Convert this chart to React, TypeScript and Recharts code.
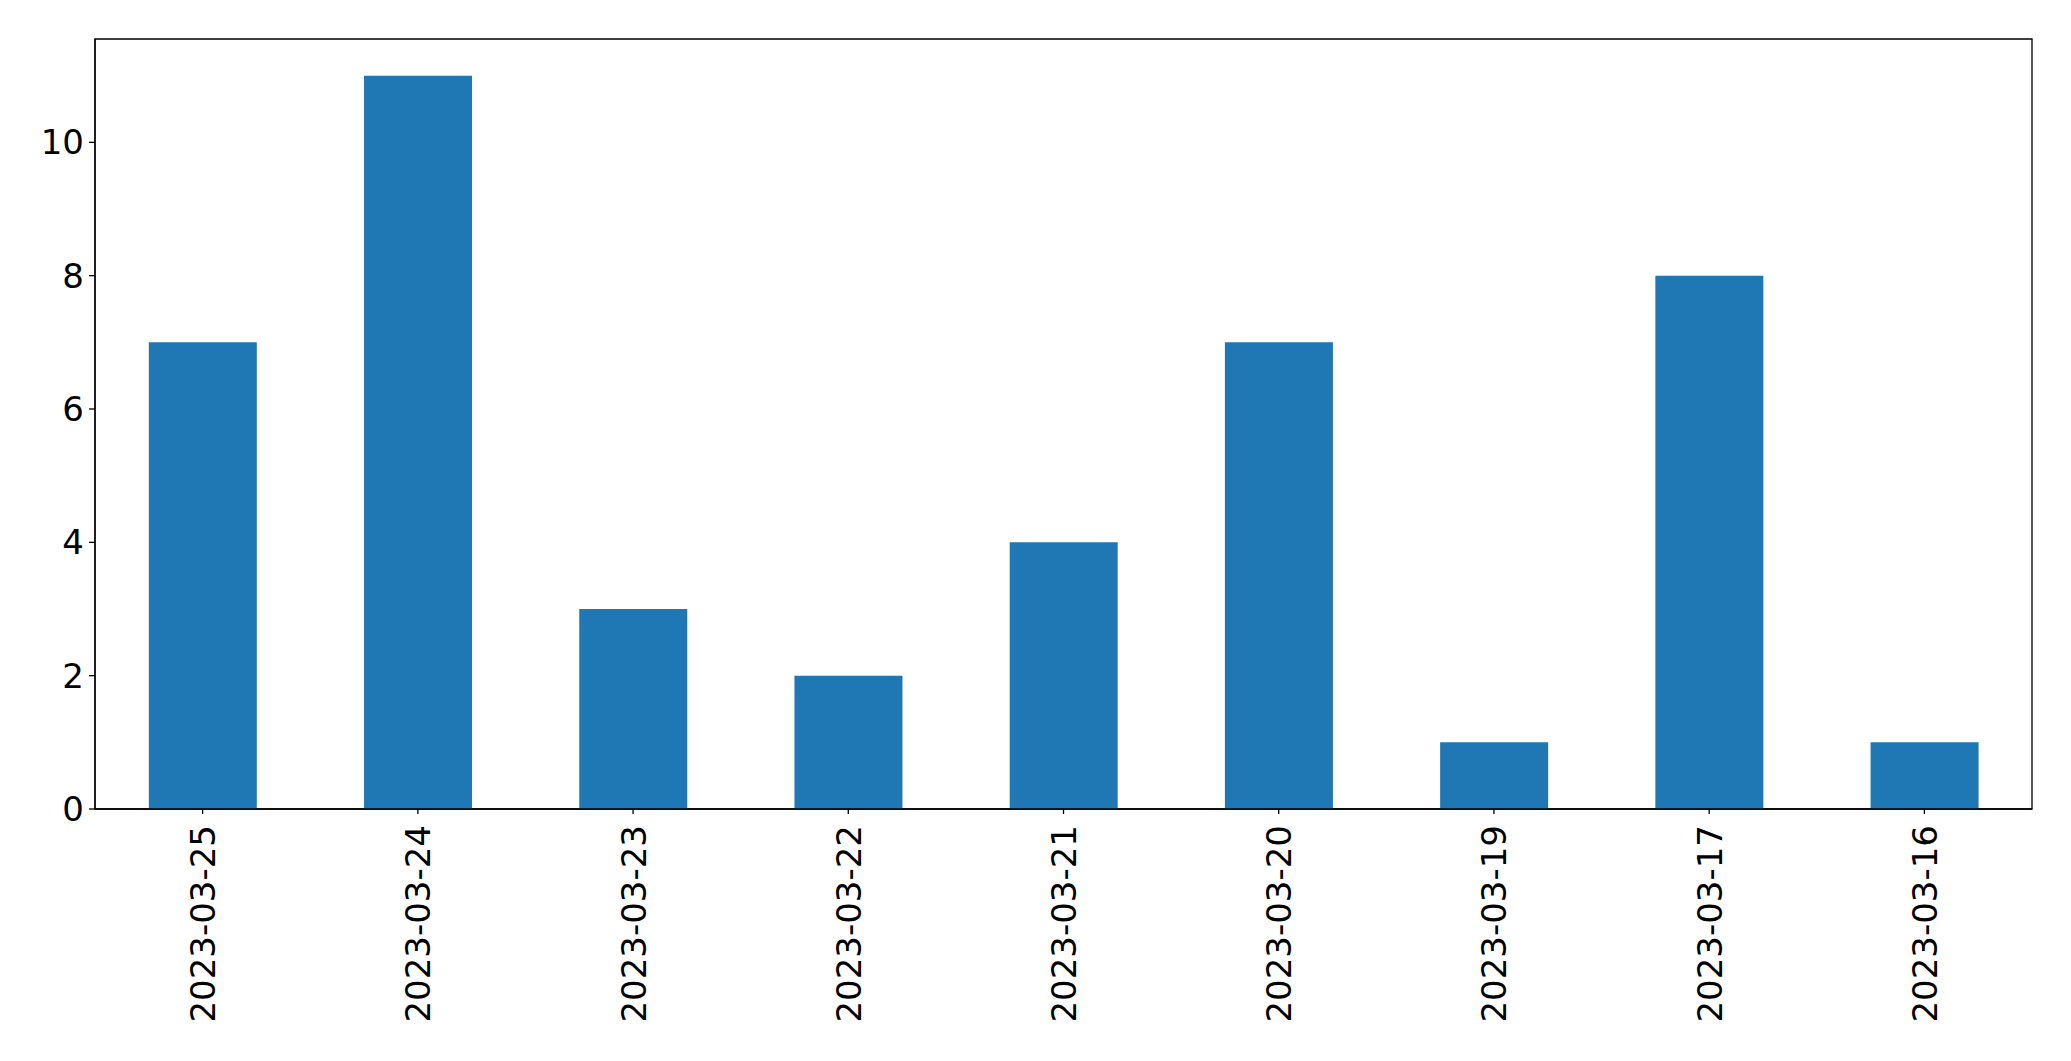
import React from "react";
import { BarChart, Bar, XAxis, YAxis, ReferenceArea } from "recharts";

const categories = [
  "2023-03-25",
  "2023-03-24",
  "2023-03-23",
  "2023-03-22",
  "2023-03-21",
  "2023-03-20",
  "2023-03-19",
  "2023-03-17",
  "2023-03-16",
];
const counts = [7, 11, 3, 2, 4, 7, 1, 8, 1];
const yTicks = [0, 2, 4, 6, 8, 10];
const yMax = 11.55;

const data = categories.map((c, i) => ({ date: c, count: counts[i] }));

const FONT = "'DejaVu Sans', sans-serif";

const XTick = (props: any) => {
  const { x, y, payload } = props;
  return (
    <g transform={`translate(${x},${y})`}>
      <line x1={0} y1={0} x2={0} y2={5} stroke="#000" strokeWidth={1.3} />
      <text
        transform="rotate(-90)"
        x={-16}
        y={12.5}
        textAnchor="end"
        fontSize={34}
        fontFamily={FONT}
        fill="#000"
      >
        {payload.value}
      </text>
    </g>
  );
};

export default function App() {
  return (
    <div style={{ position: "absolute", left: 0, top: 0, background: "#fff" }}>
      <BarChart
        width={2071}
        height={1061}
        data={data}
        margin={{ top: 39, right: 39, bottom: 0, left: 0 }}
        barCategoryGap="25%"
      >
        <XAxis
          dataKey="date"
          type="category"
          height={252}
          interval={0}
          tickSize={0}
          tickMargin={0}
          tickLine={false}
          axisLine={{ stroke: "#000", strokeWidth: 1.3 }}
          tick={<XTick />}
        />
        <YAxis
          width={95}
          domain={[0, yMax]}
          ticks={yTicks}
          interval={0}
          tickSize={6}
          tickMargin={5}
          tickLine={{ stroke: "#000", strokeWidth: 1.3 }}
          axisLine={{ stroke: "#000", strokeWidth: 1.3 }}
          tick={{ fontSize: 34, fontFamily: FONT, fill: "#000" }}
          allowDataOverflow
        />
        <Bar dataKey="count" fill="#1f77b4" isAnimationActive={false} />
        <ReferenceArea
          y1={0}
          y2={yMax}
          fill="none"
          stroke="#000"
          strokeWidth={1.3}
          ifOverflow="visible"
        />
      </BarChart>
    </div>
  );
}
